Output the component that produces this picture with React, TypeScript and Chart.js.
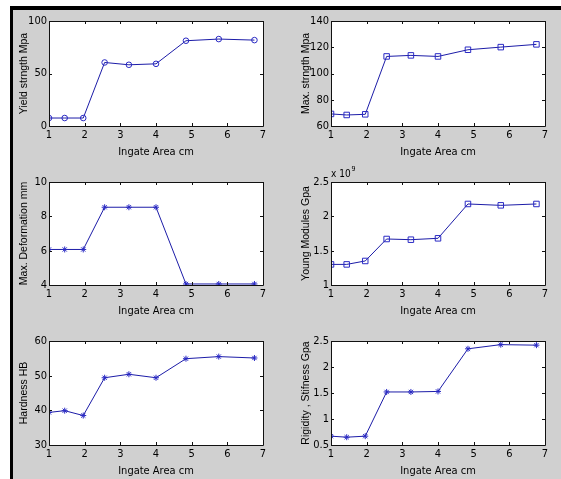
import React, { useEffect, useRef } from "react";
import { Chart, registerables } from "chart.js";

Chart.register(...registerables);

// ---- Data ----
const ingateArea = [1, 1.44, 1.96, 2.56, 3.24, 4.0, 4.84, 5.76, 6.76];
const yieldStrength = [7.6, 7.6, 7.6, 60.5, 58.3, 59.2, 81.2, 82.8, 81.8];
const maxStrength = [69.2, 68.4, 68.9, 113.0, 113.8, 113.0, 118.1, 120.1, 122.2];
const maxDeformation = [6.07, 6.07, 6.07, 8.53, 8.53, 8.53, 4.06, 4.06, 4.06];
const youngModulus = [1.30e9, 1.30e9, 1.35e9, 1.67e9, 1.66e9, 1.68e9, 2.18e9, 2.16e9, 2.18e9];
const hardness = [39.4, 39.9, 38.5, 49.4, 50.4, 49.4, 54.9, 55.5, 55.1];
const rigidity = [0.67, 0.65, 0.67, 1.52, 1.52, 1.53, 2.35, 2.43, 2.42];

const xTicks = [1, 2, 3, 4, 5, 6, 7];
const yieldTicks = [0, 50, 100];
const maxStrengthTicks = [60, 80, 100, 120, 140];
const deformationTicks = [4, 6, 8, 10];
const youngTicks = [1e9, 1.5e9, 2e9, 2.5e9];
const hardnessTicks = [30, 40, 50, 60];
const rigidityTicks = [0.5, 1, 1.5, 2, 2.5];

const xTitle = "Ingate Area cm";

// ---- Layout / style ----
const NARROW = "'Liberation Sans Narrow', 'Arial Narrow', 'DejaVu Sans Condensed', 'Liberation Sans', sans-serif";
const REG = "'Liberation Sans', Arial, sans-serif";
const LINE = "#1c1ca8";
const MARK = "#2a2ac4";
const ML = 45, MT = 16, MR = 12, MB = 35;

type Panel = {
  yTitle: string;
  values: number[];
  yTicks: number[];
  marker: string;
  radius: number;
  left: number;
  top: number;
  w: number;
  h: number;
  exponent?: number;
};

const panels: Panel[] = [
  { yTitle: "Yield strngth Mpa", values: yieldStrength, yTicks: yieldTicks, marker: "circle", radius: 2.8, left: 49, top: 21, w: 214, h: 105 },
  { yTitle: "Max. strngth Mpa", values: maxStrength, yTicks: maxStrengthTicks, marker: "rect", radius: 3.9, left: 331, top: 21, w: 214, h: 105 },
  { yTitle: "Max. Deformation mm", values: maxDeformation, yTicks: deformationTicks, marker: "star", radius: 3, left: 49, top: 182, w: 214, h: 103 },
  { yTitle: "Young Modules Gpa", values: youngModulus, yTicks: youngTicks, marker: "rect", radius: 3.9, left: 331, top: 182, w: 214, h: 103, exponent: 9 },
  { yTitle: "Hardness HB", values: hardness, yTicks: hardnessTicks, marker: "star", radius: 3, left: 49, top: 341, w: 214, h: 104 },
  { yTitle: "Rigidity , Stifness Gpa", values: rigidity, yTicks: rigidityTicks, marker: "star", radius: 3, left: 331, top: 341, w: 214, h: 104 },
];

const boxPlugin = {
  id: "matlabBox",
  beforeDatasetsDraw(chart: any) {
    const { ctx, chartArea: a } = chart;
    ctx.save();
    ctx.fillStyle = "#ffffff";
    ctx.fillRect(a.left, a.top, a.right - a.left, a.bottom - a.top);
    ctx.restore();
  },
  afterDatasetsDraw(chart: any) {
    const { ctx, chartArea: a, scales } = chart;
    const L = 3;
    ctx.save();
    ctx.strokeStyle = "#111111";
    ctx.lineWidth = 1;
    ctx.beginPath();
    ctx.rect(Math.round(a.left) + 0.5, Math.round(a.top) + 0.5, Math.round(a.right - a.left), Math.round(a.bottom - a.top));
    for (const t of scales.x.ticks) {
      const px = Math.round(scales.x.getPixelForValue(t.value)) + 0.5;
      ctx.moveTo(px, a.bottom);
      ctx.lineTo(px, a.bottom - L);
      ctx.moveTo(px, a.top);
      ctx.lineTo(px, a.top + L);
    }
    for (const t of scales.y.ticks) {
      const py = Math.round(scales.y.getPixelForValue(t.value)) + 0.5;
      ctx.moveTo(a.left, py);
      ctx.lineTo(a.left + L, py);
      ctx.moveTo(a.right, py);
      ctx.lineTo(a.right - L, py);
    }
    ctx.stroke();
    const exp = chart.options.plugins.matlabBox?.exponent;
    if (exp) {
      ctx.fillStyle = "#000";
      ctx.textBaseline = "alphabetic";
      ctx.textAlign = "left";
      ctx.font = `10px ${NARROW}`;
      ctx.fillText("x 10", a.left, a.top - 5);
      const w = ctx.measureText("x 10").width;
      ctx.font = `7px ${NARROW}`;
      ctx.fillText(String(exp), a.left + w + 1, a.top - 11);
    }
    ctx.restore();
  },
};

function SubPlot({ p }: { p: Panel }) {
  const ref = useRef<HTMLCanvasElement>(null);
  useEffect(() => {
    if (!ref.current) return;
    const scaleDiv = p.exponent ? Math.pow(10, p.exponent) : 1;
    const chart = new Chart(ref.current, {
      type: "line",
      data: {
        datasets: [
          {
            data: ingateArea.map((x, i) => ({ x, y: p.values[i] })),
            borderColor: LINE,
            borderWidth: 1,
            pointStyle: p.marker as any,
            pointRadius: p.radius,
            pointBorderColor: MARK,
            pointBackgroundColor: "rgba(0,0,0,0)",
            pointBorderWidth: 1,
            tension: 0,
          },
        ],
      },
      options: {
        responsive: false,
        animation: false,
        events: [],
        layout: { padding: { top: MT, right: MR, left: 0, bottom: 0 } },
        plugins: {
          legend: { display: false },
          tooltip: { enabled: false },
          matlabBox: { exponent: p.exponent },
        } as any,
        scales: {
          x: {
            type: "linear",
            min: xTicks[0],
            max: xTicks[xTicks.length - 1],
            afterBuildTicks: (s: any) => {
              s.ticks = xTicks.map((v) => ({ value: v }));
            },
            afterFit: (s: any) => {
              s.height = MB;
            },
            grid: { display: false, drawTicks: false },
            border: { display: false },
            ticks: {
              autoSkip: false,
              maxRotation: 0,
              padding: 3,
              color: "#000",
              font: { family: NARROW, size: 11 },
            },
            title: {
              display: true,
              text: xTitle,
              color: "#000",
              font: { family: NARROW, size: 11 },
              padding: { top: 0, bottom: 2 },
            },
          },
          y: {
            type: "linear",
            min: p.yTicks[0],
            max: p.yTicks[p.yTicks.length - 1],
            afterBuildTicks: (s: any) => {
              s.ticks = p.yTicks.map((v) => ({ value: v }));
            },
            afterFit: (s: any) => {
              s.width = ML;
            },
            grid: { display: false, drawTicks: false },
            border: { display: false },
            ticks: {
              padding: 2,
              color: "#000",
              font: { family: NARROW, size: 11 },
              callback: (v: any) => String(Math.round((Number(v) / scaleDiv) * 1000) / 1000),
            },
            title: {
              display: true,
              text: p.yTitle,
              color: "#000",
              font: { family: REG, size: 10.5 },
              padding: { top: 14, bottom: 0 },
            },
          },
        },
      },
      plugins: [boxPlugin],
    });
    return () => chart.destroy();
  }, [p]);
  const W = p.w + ML + MR;
  const H = p.h + MT + MB;
  return (
    <canvas
      ref={ref}
      width={W}
      height={H}
      style={{ position: "absolute", left: p.left - ML, top: p.top - MT, width: W, height: H }}
    />
  );
}

export default function App() {
  return (
    <div
      style={{
        position: "absolute",
        left: 0,
        top: 0,
        width: 561,
        height: 479,
        background: "#ffffff",
        overflow: "hidden",
      }}
    >
      <div
        style={{
          position: "absolute",
          left: 10,
          top: 6,
          width: 560,
          height: 480,
          boxSizing: "border-box",
          borderLeft: "3px solid #000",
          borderTop: "4px solid #000",
          background: "#d0d0d0",
        }}
      />
      {panels.map((p, i) => (
        <SubPlot key={i} p={p} />
      ))}
    </div>
  );
}
